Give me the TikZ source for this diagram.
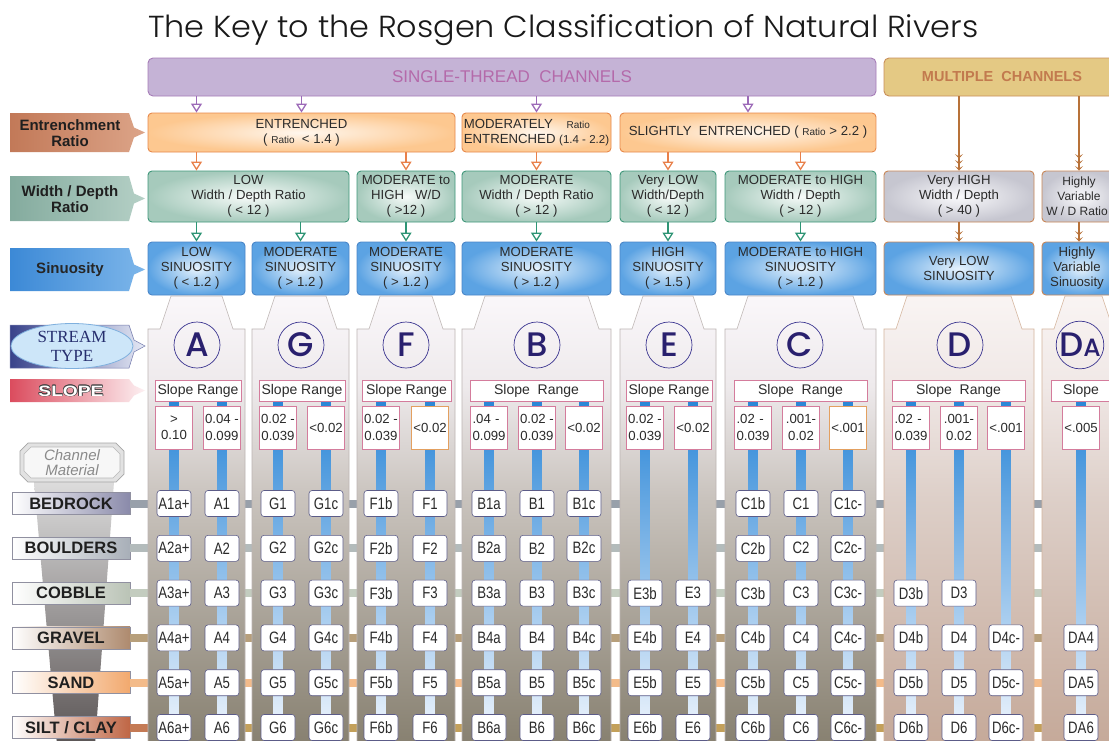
\documentclass[tikz,border=0pt]{standalone}
\usepackage{fontspec}
\usepackage{graphicx}
\setmainfont{Liberation Sans}
\newfontfamily\serifface{Liberation Serif}
\IfFontExistsTF{Poppins Light}{\newfontfamily\titlefont{Poppins Light}}{\newfontfamily\titlefont{Poppins}}
\IfFontExistsTF{Poppins Medium}{\newfontfamily\letterfontA{Poppins Medium}\newcommand\letterfont{\letterfontA}}{\newfontfamily\letterfontA{Poppins}\newcommand\letterfont{\letterfontA}}
\usetikzlibrary{arrows.meta,shapes.geometric,calc}

\definecolor{txt}{HTML}{2B2B2B}
\definecolor{purpF}{HTML}{C5B3D6}\definecolor{purpB}{HTML}{A67DB8}\definecolor{purpT}{HTML}{B46AAA}
\definecolor{mcF}{HTML}{E4C984}\definecolor{mcB}{HTML}{C98F5B}\definecolor{mcT}{HTML}{C27A4E}
\definecolor{entI}{HTML}{FFF7EE}\definecolor{entO}{HTML}{FDC890}\definecolor{entB}{HTML}{E7894B}
\definecolor{wdI}{HTML}{F7FBF9}\definecolor{wdO}{HTML}{A6CABC}\definecolor{wdB}{HTML}{3F977A}
\definecolor{grI}{HTML}{FAFAFC}\definecolor{grO}{HTML}{C6C6D0}\definecolor{orB}{HTML}{C98656}
\definecolor{sinI}{HTML}{E6F2FC}\definecolor{sinO}{HTML}{5CA3E3}\definecolor{sinB}{HTML}{4A86C8}
\definecolor{aP}{HTML}{9C6AB8}\definecolor{aO}{HTML}{E8804A}\definecolor{aG}{HTML}{2D9474}\definecolor{aB}{HTML}{B87239}
\definecolor{pAC1}{HTML}{FAF7FA}\definecolor{pAC2}{HTML}{EEEAEC}\definecolor{pAC3}{HTML}{C9C3BD}\definecolor{pAC4}{HTML}{878070}
\definecolor{pD1}{HTML}{F9F4F3}\definecolor{pD2}{HTML}{F0E8E6}\definecolor{pD3}{HTML}{DDCFC8}\definecolor{pD4}{HTML}{C5A999}
\definecolor{pBAC}{HTML}{BDB5B3}\definecolor{pBD}{HTML}{D4B49C}
\definecolor{barT}{HTML}{2A86D7}\definecolor{barM}{HTML}{7DBAEA}\definecolor{barB}{HTML}{F3F7FD}
\definecolor{pinkB}{HTML}{D47C9C}\definecolor{orB2}{HTML}{E3A060}
\definecolor{codeB}{HTML}{5C5C88}
\definecolor{circB}{HTML}{3B3590}\definecolor{letC}{HTML}{29206E}
\definecolor{lEnt1}{HTML}{C27958}\definecolor{lEnt2}{HTML}{DCA488}
\definecolor{lWd1}{HTML}{84AB9E}\definecolor{lWd2}{HTML}{B5D0C6}
\definecolor{lSin1}{HTML}{3C89D6}\definecolor{lSin2}{HTML}{7DB6EA}
\definecolor{lSt1}{HTML}{38428A}\definecolor{lSt2}{HTML}{E6EAF6}
\definecolor{lSl1}{HTML}{DB4C5E}\definecolor{lSl2}{HTML}{FDF0F2}
\definecolor{ellF}{HTML}{CDE6F9}\definecolor{ellB}{HTML}{7FB0DE}\definecolor{stT}{HTML}{262E6E}
\definecolor{mBedC}{HTML}{8A8AAA}\definecolor{mBouC}{HTML}{A8AFB8}\definecolor{mCobC}{HTML}{BAC3B6}
\definecolor{mGraC}{HTML}{AE8A6E}\definecolor{mSanC}{HTML}{F2A96E}\definecolor{mSilC}{HTML}{BF6645}
\definecolor{sBed}{HTML}{98A0AA}\definecolor{sBou}{HTML}{B3BBBB}\definecolor{sCob}{HTML}{C3CCBF}
\definecolor{sGra}{HTML}{B79F7B}\definecolor{sSan}{HTML}{F3BB8A}\definecolor{sSil}{HTML}{C3A05A}\definecolor{sSil1}{HTML}{C47A55}
\definecolor{fT}{HTML}{DCDCDC}\definecolor{fB}{HTML}{5A5454}
\definecolor{tagF}{HTML}{E2E2E2}\definecolor{tagB}{HTML}{A6A6A6}\definecolor{tagI}{HTML}{F7F7F7}\definecolor{tagT}{HTML}{8A8A8A}
\definecolor{matB}{HTML}{9090A0}

\pgfdeclareverticalshading{panelAC}{100bp}{color(0bp)=(pAC4); color(25bp)=(pAC4); color(52.5bp)=(pAC3); color(65bp)=(pAC2); color(75bp)=(pAC1); color(100bp)=(pAC1)}
\pgfdeclareverticalshading{panelD}{100bp}{color(0bp)=(pD4); color(25bp)=(pD4); color(52.5bp)=(pD3); color(65bp)=(pD2); color(75bp)=(pD1); color(100bp)=(pD1)}

\newcommand\cnd[1]{\scalebox{0.8}[1]{#1}}
\newcommand\rbox[7]{\node[#1, minimum width={#5-#3}, minimum height={#6-#4}] (#2) at ({(#3+#5)/2},{(#4+#6)/2}) {#7};}
\newcommand\pennant[4]{\path[left color=#3, right color=#4] (10,#1) -- (129,#1) -- (134,{(#1+#2)/2-5}) -- (145,{(#1+#2)/2}) -- (134,{(#1+#2)/2+5}) -- (129,#2) -- (10,#2) -- cycle;}
\newcommand\panel[3]{\path[shade, shading=#3] (#1,745) -- (#1,329) -- ({#1+12},329) -- ({#1+23},296) -- ({#2-23},296) -- ({#2-12},329) -- (#2,329) -- (#2,745) -- cycle;}
\newcommand\vbar[1]{\path[shade, top color=barT, middle color=barM, bottom color=barB] ({#1-4.5},401) rectangle ({#1+4.5},745);}
\newcommand\vb[3][valbox]{\node[#1] (v#2) at (#2,427.5) {#3};}
\newcommand\codecol[3]{\foreach \t [count=\i from #2] in {#3} {\pgfmathsetmacro\yy{503.5+44.8*(\i-1)}\node[code] (k#1-\i) at (#1,\yy) {\cnd{\t}};}}

\begin{document}
\begin{tikzpicture}[x=1pt,y=-1pt,
  box/.style={rounded corners=4pt, line width=0.9pt, align=center, text=txt, font=\fontsize{13.2}{15}\selectfont, inner sep=0pt},
  entbox/.style={box, draw=entB, inner color=entI, outer color=entO},
  wdbox/.style={box, draw=wdB, inner color=wdI, outer color=wdO},
  wdgbox/.style={box, draw=orB, inner color=grI, outer color=grO},
  sinbox/.style={box, draw=sinB, inner color=sinI, outer color=sinO},
  sinobox/.style={box, draw=orB, inner color=sinI, outer color=sinO},
  stcband/.style={rounded corners=5pt, draw=purpB, fill=purpF, line width=0.9pt, text=purpT, font=\fontsize{17}{20}\selectfont, inner sep=0pt},
  mcband/.style={rounded corners=5pt, draw=mcB, fill=mcF, line width=0.9pt, text=mcT, font=\bfseries\fontsize{14.5}{17}\selectfont, inner sep=0pt},
  lbl/.style={align=center, text=black!88, font=\bfseries\fontsize{15}{16.5}\selectfont, inner sep=0pt},
  parrow/.style={draw=aP, line width=1.3pt, -{Triangle[open, length=9pt, width=11pt]}},
  oarrow/.style={draw=aO, line width=1.3pt, -{Triangle[open, length=9pt, width=11pt]}},
  garrow/.style={draw=aG, line width=1.3pt, -{Triangle[open, length=9pt, width=11pt]}},
  barrowthree/.style={draw=aB, line width=1.8pt, -{Stealth[length=4.5pt,width=8pt,inset=2.5pt,sep=1.5pt]Stealth[length=4.5pt,width=8pt,inset=2.5pt,sep=1.5pt]Stealth[length=4.5pt,width=8pt,inset=2.5pt]}},
  barrowtwo/.style={draw=aB, line width=1.8pt, -{Stealth[length=4.5pt,width=8pt,inset=2.5pt,sep=1.5pt]Stealth[length=4.5pt,width=8pt,inset=2.5pt]}},
  circ/.style={circle, draw=circB, line width=0.7pt, minimum size=46pt, inner sep=0pt, text=letC, font=\letterfont\fontsize{34}{34}\selectfont},
  sr/.style={draw=pinkB, fill=white, line width=0.8pt, minimum height=21pt, inner sep=0pt, text=txt, font=\fontsize{14}{15}\selectfont},
  valbox/.style={draw=pinkB, fill=white, line width=0.8pt, minimum width=37pt, minimum height=43pt, inner sep=0pt, align=center, text=txt, font=\fontsize{13.2}{16.5}\selectfont},
  valboxO/.style={valbox, draw=orB2},
  valboxL/.style={valbox, align=left, text width=33pt},
  code/.style={rounded corners=3pt, draw=codeB, fill=white, line width=0.6pt, minimum width=34pt, minimum height=26pt, inner sep=0pt, text=txt, font=\fontsize{16.5}{18}\selectfont},
  mat/.style={left color=white, draw=matB, line width=0.6pt, minimum width=118pt, minimum height=22pt, inner sep=0pt, text=black!88, font=\bfseries\fontsize{16.5}{18}\selectfont},
  stub/.style={line width=8pt}
]
\useasboundingbox (0,0) rectangle (1109,740);
\clip (0,0) rectangle (1109,740);
\fill[white] (0,0) rectangle (1109,740);
\coordinate (rEdge) at (1109,0);

% title
\node[anchor=base west, inner sep=0pt, text=black!90] (title) at (148,37) {\resizebox{830pt}{23pt}{\titlefont The Key to the Rosgen Classification of Natural Rivers}};

% top bands
\rbox{stcband}{stc}{148}{58}{876}{96}{SINGLE-THREAD\ \ CHANNELS}
\rbox{mcband}{mc}{884}{58}{1120}{96}{MULTIPLE\ \ CHANNELS}

% left pennants
\pennant{113}{152}{lEnt1}{lEnt2}
\node[lbl] (lEnt) at (70,133) {Entrenchment\\Ratio};
\pennant{176}{221}{lWd1}{lWd2}
\node[lbl] (lWd) at (70,199) {Width / Depth\\Ratio};
\pennant{248}{291}{lSin1}{lSin2}
\node[lbl, text=black!85] (lSin) at (70,269.5) {Sinuosity};
\path[left color=lSt1, right color=lSt2, draw=lSt1!70, line width=0.5pt] (10,325) -- (129,325) -- (134,340) -- (145,346) -- (134,352) -- (129,368) -- (10,368) -- cycle;
\node[ellipse, fill=ellF, draw=ellB, line width=0.8pt, minimum width=122pt, minimum height=45pt, inner sep=0pt, align=center, text=stT, font=\serifface\fontsize{17}{19}\selectfont] (stEll) at (72,346) {STREAM\\TYPE};
\pennant{379}{402}{lSl1}{lSl2}
\foreach \dx/\dy [count=\n] in {-0.7/0,0.7/0,0/-0.7,0/0.7,-0.5/-0.5,0.5/0.5,-0.5/0.5,0.5/-0.5}
  \node[inner sep=0pt, text=black!75, font=\bfseries\fontsize{15}{17}\selectfont] (slO\n) at ({71+\dx},{391+\dy}) {\scalebox{1.28}[1]{SLOPE}};
\node[inner sep=0pt, text=white, font=\bfseries\fontsize{15}{17}\selectfont] (slT) at (71,391) {\scalebox{1.28}[1]{SLOPE}};

% entrenchment row
\rbox{entbox}{ent}{148}{113}{455}{152}{ENTRENCHED\\( {\fontsize{10}{12}\selectfont Ratio} \ < 1.4 )}
\rbox{entbox, align=left}{mod}{462}{113}{611}{152}{MODERATELY \hspace{10pt}{\fontsize{10}{12}\selectfont Ratio}\\ENTRENCHED {\fontsize{11.5}{13}\selectfont(1.4 - 2.2)}}
\rbox{entbox}{sli}{620}{113}{876}{152}{SLIGHTLY \ ENTRENCHED ( {\fontsize{10}{12}\selectfont Ratio} > 2.2 )}

% width / depth row
\rbox{wdbox}{wdA}{148}{171}{349}{222}{LOW\\Width / Depth Ratio\\( < 12 )}
\rbox{wdbox}{wdF}{357}{171}{455}{222}{MODERATE to\\HIGH \ \ W/D\\( >12 )}
\rbox{wdbox}{wdB}{462}{171}{611}{222}{MODERATE\\Width / Depth Ratio\\( > 12 )}
\rbox{wdbox}{wdE}{620}{171}{716}{222}{Very LOW\\Width/Depth\\( < 12 )}
\rbox{wdbox}{wdC}{725}{171}{876}{222}{MODERATE to HIGH\\Width / Depth\\( > 12 )}
\rbox{wdgbox}{wdD}{884}{171}{1034}{222}{Very HIGH\\Width / Depth\\( > 40 )}
\rbox{wdgbox, font=\fontsize{12}{15}\selectfont}{wdDA}{1042}{171}{1120}{222}{\hspace*{-4pt}Highly\\\hspace*{-4pt}Variable\\\hspace*{-8pt}W / D Ratio}

% sinuosity row
\rbox{sinbox}{sinA}{148}{242}{245}{295}{LOW\\SINUOSITY\\( < 1.2 )}
\rbox{sinbox}{sinG}{252}{242}{349}{295}{MODERATE\\SINUOSITY\\( > 1.2 )}
\rbox{sinbox}{sinF}{357}{242}{455}{295}{MODERATE\\SINUOSITY\\( > 1.2 )}
\rbox{sinbox}{sinB}{462}{242}{611}{295}{MODERATE\\SINUOSITY\\( > 1.2 )}
\rbox{sinbox}{sinE}{620}{242}{716}{295}{HIGH\\SINUOSITY\\( > 1.5 )}
\rbox{sinbox}{sinC}{725}{242}{876}{295}{MODERATE to HIGH\\SINUOSITY\\( > 1.2 )}
\rbox{sinobox}{sinD}{884}{242}{1034}{295}{Very LOW\\SINUOSITY}
\rbox{sinobox}{sinDA}{1042}{242}{1120}{295}{\hspace*{-8pt}Highly\\\hspace*{-8pt}Variable\\\hspace*{-8pt}Sinuosity}

% arrows
\draw[parrow] (stc.south -| sinA.north) -- (ent.north -| sinA.north);
\draw[parrow] (stc.south -| ent.north) -- (ent.north);
\draw[parrow] (stc.south -| mod.north) -- (mod.north);
\draw[parrow] (stc.south -| sli.north) -- (sli.north);
\draw[oarrow] (ent.south -| sinA.north) -- (wdA.north -| sinA.north);
\draw[oarrow] (ent.south -| wdF.north) -- (wdF.north);
\draw[oarrow] (mod.south) -- (wdB.north);
\draw[oarrow] (sli.south -| wdE.north) -- (wdE.north);
\draw[oarrow] (sli.south -| wdC.north) -- (wdC.north);
\draw[garrow] (wdA.south -| sinA.north) -- (sinA.north);
\draw[garrow] (wdA.south -| sinG.north) -- (sinG.north);
\draw[garrow] (wdF.south) -- (sinF.north);
\draw[garrow] (wdB.south) -- (sinB.north);
\draw[garrow] (wdE.south) -- (sinE.north);
\draw[garrow] (wdC.south) -- (sinC.north);
\coordinate (daX) at (1079,0);
\draw[barrowthree] (mc.south -| wdD.north) -- (wdD.north);
\draw[barrowthree] (mc.south -| daX) -- (wdDA.north -| daX);
\draw[barrowtwo] (wdD.south) -- (sinD.north);
\draw[barrowtwo] (wdDA.south -| daX) -- (sinDA.north -| daX);

% channel material funnel and tag
\path[shade, top color=fT, bottom color=fB] (34,482) -- (114,482) -- (95,745) -- (57,745) -- cycle;
\path[fill=tagF, draw=tagB, line width=0.7pt] (28,443) -- (116,443) -- (124,451) -- (124,474) -- (116,482) -- (28,482) -- (20,474) -- (20,451) -- cycle;
\path[fill=tagI, draw=tagB!80, line width=0.6pt] (31,447) -- (113,447) -- (120,454) -- (120,471) -- (113,478) -- (31,478) -- (24,471) -- (24,454) -- cycle;
\node[inner sep=0pt, align=center, text=tagT, font=\itshape\fontsize{15}{15}\selectfont] (chm) at (72,462.5) {Channel\\Material};

% material labels
\node[mat, right color=mBedC] (mBed) at (71,503.5) {BEDROCK};
\node[mat, right color=mBouC] (mBou) at (71,548.3) {BOULDERS};
\node[mat, right color=mCobC] (mCob) at (71,593.1) {COBBLE};
\node[mat, right color=mGraC] (mGra) at (71,637.9) {GRAVEL};
\node[mat, right color=mSanC] (mSan) at (71,682.7) {SAND};
\node[mat, right color=mSilC] (mSil) at (71,727.5) {SILT / CLAY};

% stubs
\draw[stub, sBed] (mBed.east) -- (mBed.east -| rEdge);
\draw[stub, sBou] (mBou.east) -- (mBou.east -| rEdge);
\draw[stub, sCob] (mCob.east) -- (mCob.east -| rEdge);
\draw[stub, sGra] (mGra.east) -- (mGra.east -| rEdge);
\draw[stub, sSan] (mSan.east) -- (mSan.east -| rEdge);
\draw[stub, sSil] (mSil.east) -- (mSil.east -| rEdge);
\draw[stub, sSil1] (mSil.east) -- (mSil.east -| sinA.west);

% panels
\panel{148}{245}{panelAC}\panel{252}{349}{panelAC}\panel{357}{455}{panelAC}\panel{462}{611}{panelAC}
\panel{620}{716}{panelAC}\panel{725}{876}{panelAC}
\panel{884}{1034}{panelD}\panel{1042}{1125}{panelD}
\foreach \a/\b/\c in {148/245/pBAC,252/349/pBAC,357/455/pBAC,462/611/pBAC,620/716/pBAC,725/876/pBAC,884/1034/pBD,1042/1125/pBD}
  \draw[\c, line width=0.6pt] (\a,745) -- (\a,329) -- ({\a+12},329) -- ({\a+23},296) -- ({\b-23},296) -- ({\b-12},329) -- (\b,329) -- (\b,745);

% blue bars
\foreach \x in {174,222,278,326,381,430,489,537,584,645,693,753,801,848,911,959,1006,1081} {\vbar{\x}}

% stream type circles
\node[circ] (cA) at (197,345) {A};
\node[circ] (cG) at (301,345) {G};
\node[circ] (cF) at (406,345) {F};
\node[circ] (cB) at (537,345) {B};
\node[circ] (cE) at (669,345) {E};
\node[circ] (cC) at (800,345) {C};
\node[circ] (cD) at (960,345) {D};
\node[circ] (cDA) at (1080,345) {D{\fontsize{25}{25}\selectfont A}};

% slope range boxes
\node[sr, minimum width=86pt] (srA) at (198,390.5) {Slope Range};
\node[sr, minimum width=86pt] (srG) at (302,390.5) {Slope Range};
\node[sr, minimum width=89pt] (srF) at (406.5,390.5) {Slope Range};
\node[sr, minimum width=133pt] (srB) at (536.5,390.5) {Slope\ \ Range};
\node[sr, minimum width=86pt] (srE) at (669,390.5) {Slope Range};
\node[sr, minimum width=133pt] (srC) at (800.5,390.5) {Slope\ \ Range};
\node[sr, minimum width=133pt] (srD) at (958.5,390.5) {Slope\ \ Range};
\node[sr, minimum width=70pt] (srDA) at (1086,390.5) {};
\node[inner sep=0pt, text=txt, font=\fontsize{14}{15}\selectfont] (srDAt) at (1081,390.5) {Slope};

% slope values
\vb{174}{>\\0.10}
\vb{222}{0.04 -\\0.099}
\vb{278}{0.02 -\\0.039}
\vb{326}{<0.02}
\vb{381}{0.02 -\\0.039}
\vb[valboxO]{430}{<0.02}
\vb[valboxL]{489}{.04 -\\0.099}
\vb{537}{0.02 -\\0.039}
\vb{584}{<0.02}
\vb{645}{0.02 -\\0.039}
\vb{693}{<0.02}
\vb[valboxL]{753}{.02 -\\0.039}
\vb{801}{.001-\\0.02}
\vb[valboxO]{848}{<.001}
\vb[valboxL]{911}{.02 -\\0.039}
\vb{959}{.001-\\0.02}
\vb{1006}{<.001}
\vb{1081}{<.005}

% stream type codes
\codecol{174}{1}{A1a+,A2a+,A3a+,A4a+,A5a+,A6a+}
\codecol{222}{1}{A1,A2,A3,A4,A5,A6}
\codecol{278}{1}{G1,G2,G3,G4,G5,G6}
\codecol{326}{1}{G1c,G2c,G3c,G4c,G5c,G6c}
\codecol{381}{1}{F1b,F2b,F3b,F4b,F5b,F6b}
\codecol{430}{1}{F1,F2,F3,F4,F5,F6}
\codecol{489}{1}{B1a,B2a,B3a,B4a,B5a,B6a}
\codecol{537}{1}{B1,B2,B3,B4,B5,B6}
\codecol{584}{1}{B1c,B2c,B3c,B4c,B5c,B6c}
\codecol{645}{3}{E3b,E4b,E5b,E6b}
\codecol{693}{3}{E3,E4,E5,E6}
\codecol{753}{1}{C1b,C2b,C3b,C4b,C5b,C6b}
\codecol{801}{1}{C1,C2,C3,C4,C5,C6}
\codecol{848}{1}{C1c-,C2c-,C3c-,C4c-,C5c-,C6c-}
\codecol{911}{3}{D3b,D4b,D5b,D6b}
\codecol{959}{3}{D3,D4,D5,D6}
\codecol{1006}{4}{D4c-,D5c-,D6c-}
\codecol{1081}{4}{DA4,DA5,DA6}
\end{tikzpicture}
\end{document}
